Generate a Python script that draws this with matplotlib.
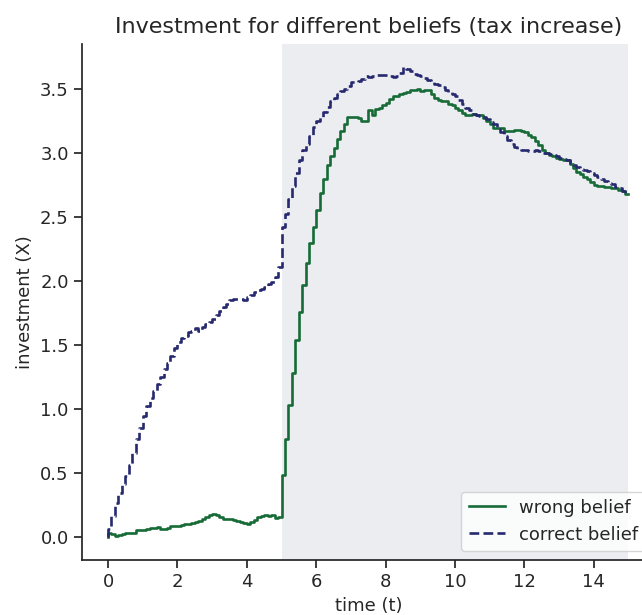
"""Investment paths under a wrong vs. correct belief about a tax increase."""

import matplotlib

matplotlib.use("Agg")
import matplotlib.pyplot as plt  # noqa: E402
import numpy as np  # noqa: E402

_GREEN = "#176b37"
_NAVY = "#27296f"
_SHADE = "#ebedf0"
_INK = "#262626"

dt = 0.1
tax_start, tax_end = 5.0, 15.0

# investment level on each interval of length dt (first entry is X at t=0)
wrong_belief = [
    0.0,
    0.03, 0.02, 0.005, 0.01, 0.02, 0.025, 0.028, 0.025, 0.05, 0.05,
    0.052, 0.06, 0.068, 0.07, 0.075, 0.062, 0.06, 0.07, 0.085, 0.08,
    0.08, 0.09, 0.1, 0.1, 0.105, 0.11, 0.12, 0.14, 0.155, 0.17,
    0.18, 0.17, 0.15, 0.14, 0.14, 0.135, 0.13, 0.125, 0.115, 0.105,
    0.1, 0.11, 0.13, 0.15, 0.16, 0.165, 0.16, 0.17, 0.145, 0.155,
    0.48, 0.76, 1.03, 1.28, 1.535, 1.755, 1.965, 2.135, 2.295, 2.42,
    2.55, 2.685, 2.795, 2.9, 2.975, 3.035, 3.105, 3.17, 3.225, 3.275,
    3.28, 3.28, 3.27, 3.25, 3.25, 3.33, 3.29, 3.34, 3.35, 3.37,
    3.39, 3.42, 3.44, 3.445, 3.46, 3.465, 3.47, 3.49, 3.49, 3.5,
    3.48, 3.49, 3.49, 3.46, 3.43, 3.41, 3.4, 3.4, 3.38, 3.37,
    3.35, 3.33, 3.31, 3.29, 3.29, 3.3, 3.29, 3.29, 3.27, 3.25,
    3.22, 3.19, 3.19, 3.19, 3.17, 3.17, 3.17, 3.175, 3.178, 3.17,
    3.16, 3.14, 3.12, 3.09, 3.06, 3.02, 3.0, 2.985, 2.97, 2.96,
    2.95, 2.945, 2.94, 2.91, 2.88, 2.85, 2.83, 2.81, 2.79, 2.77,
    2.745, 2.74, 2.74, 2.73, 2.73, 2.725, 2.72, 2.71, 2.7, 2.68,
]

correct_belief = [
    0.0,
    0.06, 0.16, 0.26, 0.34, 0.41, 0.47, 0.56, 0.65, 0.76, 0.85,
    0.94, 1.02, 1.08, 1.14, 1.19, 1.25, 1.31, 1.36, 1.41, 1.47,
    1.52, 1.55, 1.57, 1.6, 1.61, 1.63, 1.61, 1.64, 1.66, 1.68,
    1.70, 1.73, 1.76, 1.79, 1.82, 1.845, 1.855, 1.86, 1.855, 1.85,
    1.87, 1.89, 1.91, 1.925, 1.935, 1.95, 1.97, 1.99, 2.03, 2.11,
    2.42, 2.52, 2.64, 2.74, 2.84, 2.94, 3.02, 3.07, 3.13, 3.2,
    3.25, 3.28, 3.32, 3.36, 3.40, 3.43, 3.46, 3.48, 3.5, 3.52,
    3.55, 3.555, 3.56, 3.575, 3.6, 3.59, 3.6, 3.61, 3.61, 3.61,
    3.605, 3.595, 3.59, 3.6, 3.625, 3.665, 3.65, 3.635, 3.615, 3.605,
    3.6, 3.585, 3.565, 3.55, 3.535, 3.53, 3.51, 3.49, 3.475, 3.46,
    3.44, 3.41, 3.38, 3.35, 3.33, 3.3, 3.29, 3.285, 3.28, 3.26,
    3.24, 3.22, 3.19, 3.16, 3.13, 3.1, 3.07, 3.04, 3.025, 3.02,
    3.02, 3.015, 3.015, 3.02, 3.01, 3.0, 2.995, 2.99, 2.98, 2.97,
    2.96, 2.95, 2.94, 2.92, 2.9, 2.89, 2.875, 2.865, 2.855, 2.84,
    2.825, 2.81, 2.795, 2.78, 2.765, 2.755, 2.735, 2.72, 2.7, 2.685,
]

t = np.arange(len(wrong_belief)) * dt

plt.rcParams.update({"font.family": "DejaVu Sans", "font.size": 13,
                     "text.color": _INK, "axes.labelcolor": _INK,
                     "xtick.color": _INK, "ytick.color": _INK,
                     "axes.edgecolor": _INK, "axes.linewidth": 1.25,
                     "xtick.major.width": 1.25, "ytick.major.width": 1.25,
                     "xtick.major.size": 6, "ytick.major.size": 6})

fig = plt.figure(figsize=(6.42, 6.15), dpi=100)
# the original figure is cropped on the right, so the axes run past the edge
ax = fig.add_axes([0.1277, 0.0894, 0.8918, 0.839])

ax.axvspan(tax_start, tax_end, color=_SHADE, lw=0, zorder=0)
ax.step(t, wrong_belief, where="pre", color=_GREEN, lw=1.9, label="wrong belief")
ax.step(t, correct_belief, where="pre", color=_NAVY, lw=1.9, ls="--",
        label="correct belief")

ax.set_title("Investment for different beliefs (tax increase)", fontsize=16, pad=8)
ax.set_xlabel("time (t)")
ax.set_ylabel("investment (X)")
ax.set_xticks(range(0, 15, 2))
ax.set_yticks(np.arange(0, 3.6, 0.5))
for s in ("top", "right"):
    ax.spines[s].set_visible(False)
ax.legend(loc="lower right", framealpha=0.8, edgecolor="#cccccc")

fig.savefig("out.png", dpi=100)
